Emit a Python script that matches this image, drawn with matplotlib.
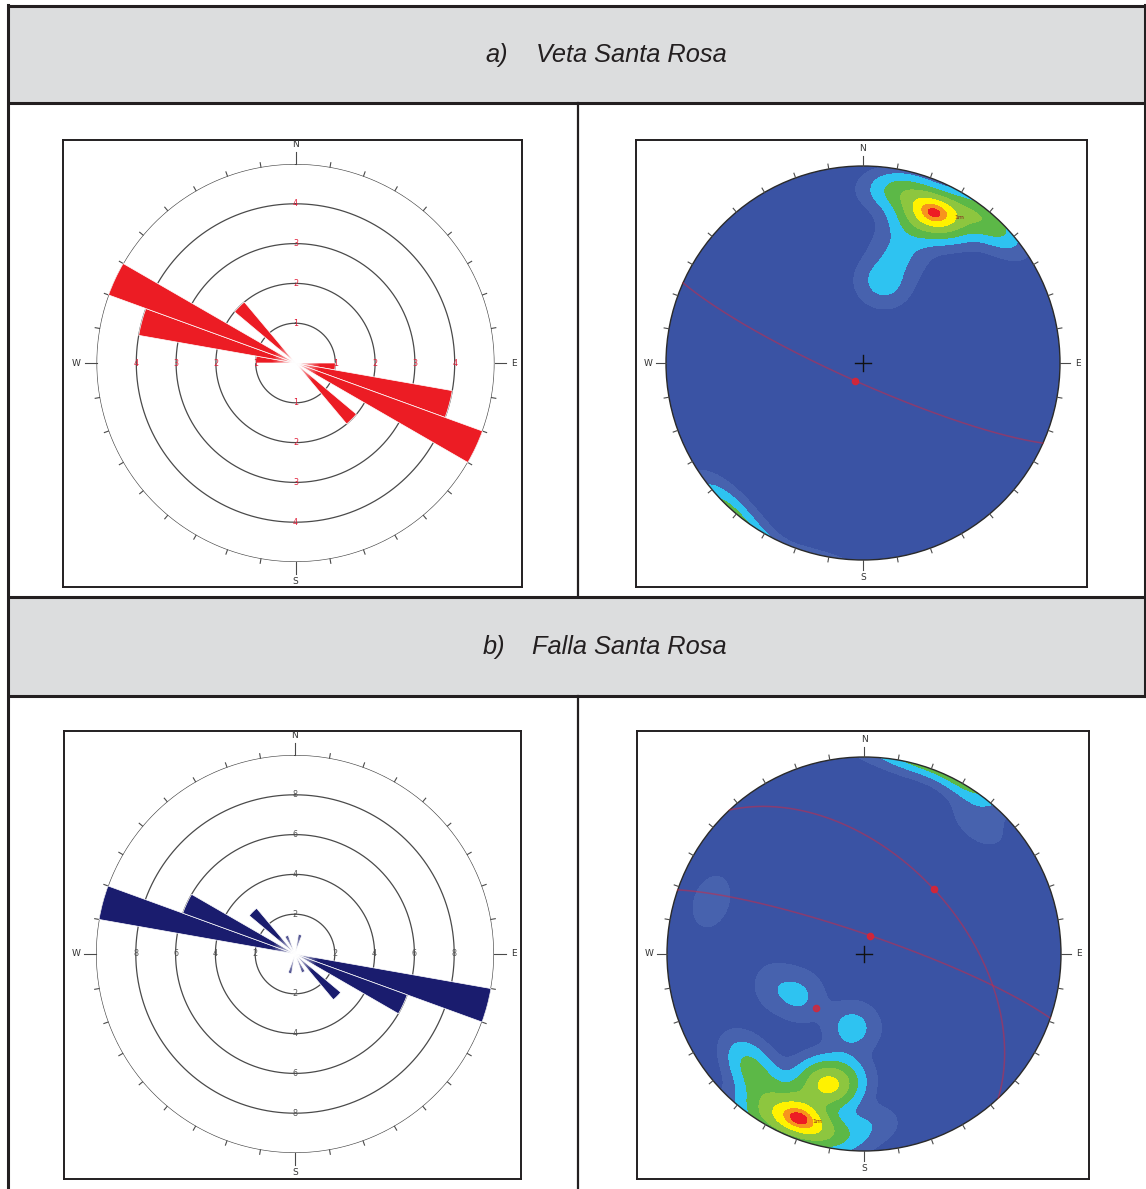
import numpy as np
import matplotlib
matplotlib.use("Agg")
import matplotlib.pyplot as plt
from matplotlib.patches import Rectangle, Circle

W, H = 1146, 1189
DPI = 100

# ---- rose diagram data: strike frequency per 10 degree bin (bin start azimuth) ----
veta_bin_start = [90, 100, 110, 130, 270, 280, 290, 310]
veta_count = [1, 4, 5, 2, 1, 4, 5, 2]
veta_rings = [1, 2, 3, 4]
veta_rmax = 5

falla_bin_start = [10, 100, 110, 130, 150, 190, 280, 290, 310, 330]
falla_count = [1, 10, 6, 3, 1, 1, 10, 6, 3, 1]
falla_rings = [2, 4, 6, 8]
falla_rmax = 10

# ---- stereonet data: poles to planes (trend, plunge) and their weights ----
veta_pole_trend = [25, 26, 24, 27, 23, 30, 10, 15, 35, 45, 40, 20, 14, 18]
veta_pole_plunge = [17, 18, 16, 17, 19, 13, 13, 10, 8, 2, 5, 28, 55, 42]
veta_pole_weight = [1, 1, 1, 1, 1, 1, 1, 1, 1, 1, 1, 1, 1, 0.7]
veta_plane_dipdir = [204]
veta_plane_dip = [82]

falla_pole_trend = [200, 201, 202, 199, 203, 195, 196, 194, 197, 221, 228, 190,
                    208, 195, 212, 188, 205, 215, 189, 237, 250, 289, 41, 178]
falla_pole_plunge = [12, 11, 13, 12, 11, 31, 33, 30, 32, 19, 21, 38,
                     6, 4, 2, 8, 22, 12, 59, 58, 50, 19, 12, 15]
falla_pole_weight = [1, 1, 1, 1, 1, 1, 1, 1, 1, 1, 1, 1,
                     1, 1, 1, 1, 1, 1, 1, 0.76, 0.45, 0.5, 0.5, 0.5]
falla_plane_dipdir = [19, 47]
falla_plane_dip = [82, 50]
falla_mean_trend = [222]
falla_mean_plunge = [60]

contour_levels = [0, 0.2, 0.7, 1.5, 2.6, 4.0, 5.2, 5.8, 100]
contour_colors = ["#3a53a4", "#4762ae", "#2ec3f1", "#5cb847", "#8dc63f",
                  "#fff200", "#f7941d", "#ed1c24"]

LINE = "#231f20"
GRAY = "#dcddde"

fig = plt.figure(figsize=(W / DPI, H / DPI), dpi=DPI)


def px(x0, y0, w, h):
    return [x0 / W, 1 - (y0 + h) / H, w / W, h / H]


# ---- table layout ----
bg = fig.add_axes([0, 0, 1, 1])
bg.set_xlim(0, W)
bg.set_ylim(H, 0)
bg.axis("off")
bg.add_patch(Rectangle((8, 6), W - 8, 97, facecolor=GRAY, edgecolor="none"))
bg.add_patch(Rectangle((8, 597), W - 8, 99, facecolor=GRAY, edgecolor="none"))
lw = 2.2
for y in (6, 103, 597, 696):
    bg.plot([8, W], [y, y], color=LINE, lw=lw, solid_capstyle="butt")
bg.plot([8, 8], [5, H], color=LINE, lw=lw)
bg.plot([W - 1, W - 1], [5, 696], color=LINE, lw=lw)
bg.plot([578, 578], [103, 597], color=LINE, lw=1.6)
bg.plot([578, 578], [696, H], color=LINE, lw=1.6)

hfont = dict(family=["Liberation Sans Narrow", "Liberation Sans", "DejaVu Sans"],
             style="italic", fontsize=18.3, color=LINE, va="center", ha="left")
bg.text(485, 55, "a)", **hfont)
bg.text(536, 55, "Veta Santa Rosa", **hfont)
bg.text(483, 647, "b)", **hfont)
bg.text(532, 647, "Falla Santa Rosa", **hfont)


def frame(box):
    a = fig.add_axes(px(*box))
    a.set_xticks([])
    a.set_yticks([])
    a.patch.set_alpha(0)
    for s in a.spines.values():
        s.set_color(LINE)
        s.set_linewidth(1.4)
    return a


def center_fade(cx, cy, rad):
    # white radial fade over the origin of a rose diagram
    a = fig.add_axes(px(cx - rad, cy - rad, 2 * rad, 2 * rad))
    a.axis("off")
    g = np.linspace(-1, 1, 101)
    X, Y = np.meshgrid(g, g)
    alpha = np.clip(1 - np.hypot(X, Y), 0, 1) ** 0.9
    img = np.ones((101, 101, 4))
    img[..., 3] = alpha * 0.97
    a.imshow(img, extent=(-1, 1, -1, 1), interpolation="bilinear")


def rose(cx, cy, R, box, starts, counts, rings, rmax, color, lab_color):
    frame(box)
    ax = fig.add_axes(px(cx - R, cy - R, 2 * R, 2 * R), projection="polar")
    ax.set_theta_zero_location("N")
    ax.set_theta_direction(-1)
    ax.set_ylim(0, rmax)
    ax.axis("off")
    th = np.linspace(0, 2 * np.pi, 721)
    for r in list(rings) + [rmax]:
        ax.plot(th, np.full_like(th, r), color="#4a4a4a", lw=0.9, zorder=1)
    ax.bar(np.radians(np.array(starts) + 5), counts, width=np.radians(10),
           color=color, edgecolor="white", linewidth=0.5, zorder=3,
           clip_on=False)
    # tick marks around the primitive
    for az in range(0, 360, 10):
        t = np.radians(az)
        ext = 1.06 if az % 90 == 0 else 1.022
        ax.plot([t, t], [rmax, rmax * ext], color="#4a4a4a", lw=0.8,
                clip_on=False)
    for r in rings:
        for az in (0, 90, 180, 270):
            ax.text(np.radians(az), r, str(r), ha="center", va="center",
                    fontsize=5.8, color=lab_color, zorder=4)
    for lab, az in zip("NESW", (0, 90, 180, 270)):
        ax.text(np.radians(az), rmax * 1.1, lab, ha="center", va="center",
                fontsize=6.5, color="#333333", clip_on=False)
    center_fade(cx, cy, 24)


def project(trend, plunge):
    trend = np.radians(trend)
    plunge = np.radians(plunge)
    r = np.sqrt(2) * np.sin((np.pi / 2 - plunge) / 2)
    return r * np.sin(trend), r * np.cos(trend)


def vec(trend, plunge):
    t = np.radians(np.asarray(trend, float))
    p = np.radians(np.asarray(plunge, float))
    return np.stack([np.cos(p) * np.sin(t), np.cos(p) * np.cos(t), np.sin(p)], -1)


def stereonet(cx, cy, R, box, trend, plunge, weight, dipdir, dip,
              mean_trend=(), mean_plunge=(), label_at=None):
    frame(box)
    m = 1.12
    ax = fig.add_axes(px(cx - R * m, cy - R * m, 2 * R * m, 2 * R * m))
    ax.set_xlim(-m, m)
    ax.set_ylim(-m, m)
    ax.set_aspect("equal")
    ax.axis("off")
    g = np.linspace(-1, 1, 500)
    X, Y = np.meshgrid(g, g)
    rr = np.clip(np.hypot(X, Y), 1e-9, 1.0)
    theta = 2 * np.arcsin(rr / np.sqrt(2))
    E = np.sin(theta) * X / rr
    N = np.sin(theta) * Y / rr
    D = np.cos(theta)
    P = vec(trend, plunge)
    k = 80.0
    dens = np.zeros_like(X)
    for (pe, pn, pd), w in zip(P, weight):
        c = np.abs(E * pe + N * pn + D * pd)
        dens += w * np.exp(k * (c - 1))
    cs = ax.contourf(X, Y, dens, levels=contour_levels, colors=contour_colors)
    clip = Circle((0, 0), 1, transform=ax.transData)
    cs.set_clip_path(clip)
    ax.add_patch(Circle((0, 0), 1, fill=False, edgecolor="#2a2a2a", lw=1.0))
    # ticks on the primitive
    for az in range(0, 360, 10):
        t = np.radians(az)
        ext = 1.05 if az % 90 == 0 else 1.025
        ax.plot([np.sin(t), ext * np.sin(t)], [np.cos(t), ext * np.cos(t)],
                color="#4a4a4a", lw=0.8)
    for lab, az in zip("NESW", (0, 90, 180, 270)):
        t = np.radians(az)
        ax.text(1.09 * np.sin(t), 1.09 * np.cos(t), lab, ha="center",
                va="center", fontsize=6.5, color="#333333")
    ax.plot([-0.04, 0.04], [0, 0], color="#111111", lw=1.0)
    ax.plot([0, 0], [-0.04, 0.04], color="#111111", lw=1.0)
    # mean planes as great circles with their dip-vector marker
    for dd, dp in zip(dipdir, dip):
        s = np.radians(dd - 90)
        sv = np.array([np.sin(s), np.cos(s), 0.0])
        dv = vec(dd, dp)
        t = np.linspace(0, np.pi, 400)
        v = np.outer(np.cos(t), sv) + np.outer(np.sin(t), dv)
        pl = np.degrees(np.arcsin(np.clip(v[:, 2], -1, 1)))
        tr = np.degrees(np.arctan2(v[:, 0], v[:, 1]))
        x, y = project(tr, pl)
        ax.plot(x, y, color="#d7263d", lw=1.1, alpha=0.5)
        mx, my = project(dd, dp)
        ax.plot(mx, my, marker="o", ms=4.5, color="#e8202a", alpha=0.8)
    for t_, p_ in zip(mean_trend, mean_plunge):
        mx, my = project(t_, p_)
        ax.plot(mx, my, marker="o", ms=4.5, color="#e8202a", alpha=0.7)
    if label_at is not None:
        lx, ly = project(*label_at)
        ax.text(lx, ly, "1m", fontsize=4.5, color="#8a2020", ha="left",
                va="center")


rose(295.5, 363, 199, (63, 140, 459, 447), veta_bin_start, veta_count,
     veta_rings, veta_rmax, "#ec1c24", "#e0203a")
stereonet(863, 363, 197, (636, 140, 451, 447), veta_pole_trend,
          veta_pole_plunge, veta_pole_weight, veta_plane_dipdir,
          veta_plane_dip, label_at=(32, 14))

rose(295, 954, 199, (64, 731, 457, 448), falla_bin_start, falla_count,
     falla_rings, falla_rmax, "#1a1c6e", "#555555")
stereonet(864, 954, 197, (637, 731, 452, 448), falla_pole_trend,
          falla_pole_plunge, falla_pole_weight, falla_plane_dipdir,
          falla_plane_dip, falla_mean_trend, falla_mean_plunge,
          label_at=(197, 12))

fig.savefig("out.png", dpi=DPI)
